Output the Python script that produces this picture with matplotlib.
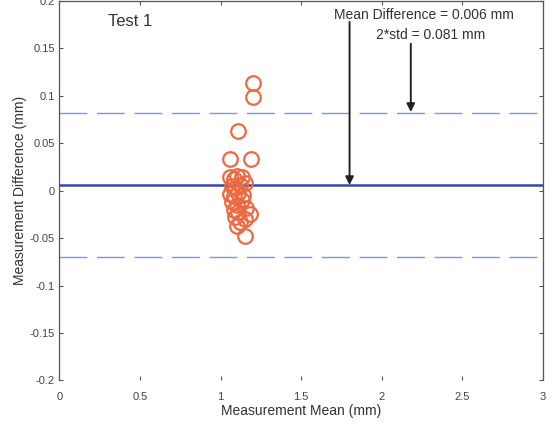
import matplotlib
matplotlib.use("Agg")
from matplotlib import pyplot as plt

plt.rcParams['font.family'] = ['Liberation Sans', 'DejaVu Sans']

# Bland-Altman style data
mean_vals = [1.20, 1.20, 1.11, 1.06, 1.19, 1.06, 1.08, 1.10, 1.13, 1.07,
             1.09, 1.12, 1.15, 1.06, 1.08, 1.11, 1.14, 1.07, 1.10, 1.13,
             1.08, 1.11, 1.16, 1.18, 1.09, 1.12, 1.10, 1.15, 1.15]
diff_vals = [0.114, 0.099, 0.063, 0.033, 0.033, 0.015, 0.012, 0.016, 0.014, 0.005,
             0.003, 0.006, 0.008, -0.003, -0.006, -0.002, -0.004, -0.012, -0.015, -0.010,
             -0.020, -0.022, -0.018, -0.024, -0.028, -0.033, -0.037, -0.030, -0.048]
mean_diff = 0.006
upper_lim = 0.082
lower_lim = -0.070

xticks = [0, 0.5, 1, 1.5, 2, 2.5, 3]
xticklabels = ['0', '0.5', '1', '1.5', '2', '2.5', '3']
yticks = [-0.2, -0.15, -0.1, -0.05, 0, 0.05, 0.1, 0.15, 0.2]
yticklabels = ['-0.2', '-0.15', '-0.1', '-0.05', '0', '0.05', '0.1', '0.15', '0.2']

fig = plt.figure(figsize=(5.56, 4.24), dpi=100)
ax = fig.add_axes([0.107, 0.1026, 0.8695, 0.895])

# limit lines and mean line
ax.axhline(upper_lim, color='#8a8fd8', lw=1.0, linestyle=(0, (20, 7)))
ax.axhline(lower_lim, color='#8a8fd8', lw=1.0, linestyle=(0, (20, 7)))
ax.axhline(mean_diff, color='#3346b8', lw=1.8)

# measurements
ax.plot(mean_vals, diff_vals, 'o', mfc='none', mec='#ec6a42', ms=10.5, mew=1.6)

ax.set_xlim(0, 3)
ax.set_ylim(-0.2, 0.2)
ax.set_xticks(xticks)
ax.set_xticklabels(xticklabels)
ax.set_yticks(yticks)
ax.set_yticklabels(yticklabels)
ax.tick_params(direction='in', length=3, width=0.8, color='#555555',
               labelsize=8, labelcolor='#444444', top=True, right=True)
ax.tick_params(axis='x', pad=8)
for s in ['left', 'right', 'top']:
    ax.spines[s].set_color('#555555')
    ax.spines[s].set_linewidth(0.9)
ax.spines['bottom'].set_visible(False)

ax.set_xlabel('Measurement Mean (mm)', fontsize=10, color='#333333', labelpad=2)
ax.set_ylabel('Measurement Difference (mm)', fontsize=10, color='#333333', labelpad=2)

ax.text(0.3, 0.178, 'Test 1', fontsize=12, color='#333333', va='center')
ax.text(2.26, 0.1855, 'Mean Difference = 0.006 mm', fontsize=10, color='#333333',
        ha='center', va='center')
ax.text(2.30, 0.1645, '2*std = 0.081 mm', fontsize=10, color='#333333',
        ha='center', va='center')

ax.annotate('', xy=(1.80, mean_diff), xytext=(1.80, 0.178),
            arrowprops=dict(arrowstyle='-|>', color='#222222', lw=1.4,
                            mutation_scale=12, shrinkA=0, shrinkB=0))
ax.annotate('', xy=(2.18, upper_lim + 0.001), xytext=(2.18, 0.155),
            arrowprops=dict(arrowstyle='-|>', color='#222222', lw=1.4,
                            mutation_scale=12, shrinkA=0, shrinkB=0))

fig.savefig('out.png', dpi=100)
